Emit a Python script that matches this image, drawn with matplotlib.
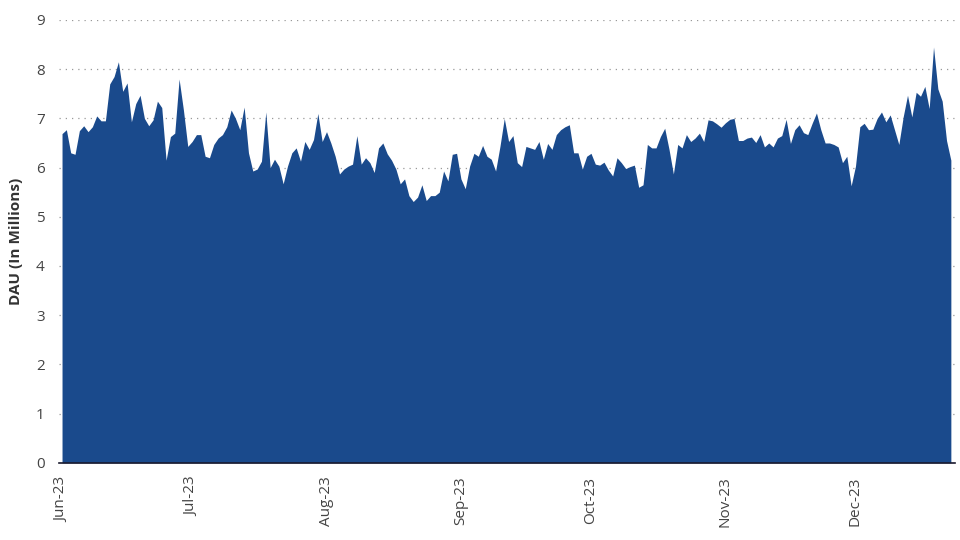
import numpy as np
import pandas as pd
import matplotlib
matplotlib.use('Agg')
import matplotlib.pyplot as plt
import matplotlib.dates as mdates

plt.rcParams['font.family'] = ['Open Sans', 'DejaVu Sans']

start_date = '2023-06-01'
dau = [
    # June
    6.69, 6.77, 6.30, 6.27, 6.75, 6.85, 6.73, 6.83, 7.05, 6.95,
    6.95, 7.70, 7.85, 8.15, 7.55, 7.72, 6.93, 7.30, 7.47, 7.00,
    6.85, 6.97, 7.35, 7.22, 6.15, 6.63, 6.70, 7.80, 7.17, 6.43,
    # July
    6.53, 6.67, 6.67, 6.23, 6.20, 6.47, 6.60, 6.67, 6.83, 7.17,
    7.00, 6.77, 7.23, 6.30, 5.93, 5.97, 6.13, 7.13, 6.00, 6.17,
    6.03, 5.67, 6.03, 6.30, 6.40, 6.13, 6.53, 6.37, 6.57, 7.10,
    6.53,
    # August
    6.73, 6.50, 6.23, 5.87, 5.97, 6.03, 6.07, 6.65, 6.07, 6.20,
    6.10, 5.90, 6.40, 6.50, 6.28, 6.15, 5.97, 5.67, 5.77, 5.43,
    5.31, 5.40, 5.65, 5.33, 5.43, 5.43, 5.50, 5.93, 5.73, 6.27,
    6.29,
    # September
    5.77, 5.57, 6.03, 6.29, 6.23, 6.45, 6.23, 6.17, 5.93, 6.43,
    7.00, 6.53, 6.65, 6.10, 6.02, 6.43, 6.40, 6.37, 6.53, 6.17,
    6.49, 6.37, 6.67, 6.77, 6.83, 6.87, 6.30, 6.30, 5.97, 6.23,
    # October
    6.29, 6.07, 6.05, 6.11, 5.95, 5.83, 6.20, 6.10, 5.98, 6.02,
    6.05, 5.60, 5.65, 6.47, 6.40, 6.40, 6.63, 6.80, 6.37, 5.87,
    6.47, 6.40, 6.67, 6.53, 6.60, 6.70, 6.53, 6.97, 6.95, 6.89,
    6.82,
    # November
    6.91, 6.98, 7.00, 6.55, 6.55, 6.60, 6.62, 6.51, 6.67, 6.42,
    6.50, 6.42, 6.60, 6.65, 6.98, 6.49, 6.77, 6.87, 6.71, 6.67,
    6.90, 7.11, 6.77, 6.50, 6.50, 6.47, 6.42, 6.10, 6.23, 5.63,
    # December
    6.03, 6.83, 6.90, 6.77, 6.78, 7.00, 7.13, 6.93, 7.07, 6.77,
    6.47, 7.03, 7.47, 7.03, 7.53, 7.45, 7.65, 7.20, 8.45, 7.60,
    7.35, 6.55, 6.15,
]

dates = pd.date_range(start_date, periods=len(dau), freq='D')
fill_color = '#1A4A8C'

fig = plt.figure(figsize=(9.6, 5.4), dpi=100)
ax = fig.add_axes([0.061, 0.143, 0.934, 0.82])

ax.fill_between(dates, dau, 0, color=fill_color, linewidth=0, zorder=3)

ax.set_ylim(0, 9)
ax.set_yticks(range(0, 10))
ax.set_xlim(dates[0] - pd.Timedelta(days=0.8), dates[-1] + pd.Timedelta(days=1.0))

ax.xaxis.set_major_locator(mdates.MonthLocator())
ax.xaxis.set_major_formatter(mdates.DateFormatter('%b-%y'))
plt.setp(ax.get_xticklabels(), rotation=90)

ax.grid(axis='y', linestyle=(0, (1, 4)), color='#999999', linewidth=0.9, zorder=0)
ax.tick_params(axis='both', length=0, labelsize=11, colors='#444444')
ax.tick_params(axis='y', pad=10)
ax.tick_params(axis='x', pad=10)

for side in ['top', 'right', 'left']:
    ax.spines[side].set_visible(False)
ax.spines['bottom'].set_color('#1a1a2e')
ax.spines['bottom'].set_linewidth(1.2)
ax.spines['bottom'].set_zorder(4)

ax.set_ylabel('DAU (In Millions)', fontsize=11, fontweight='bold', color='#333333', labelpad=9)

fig.savefig('out.png', dpi=100)
